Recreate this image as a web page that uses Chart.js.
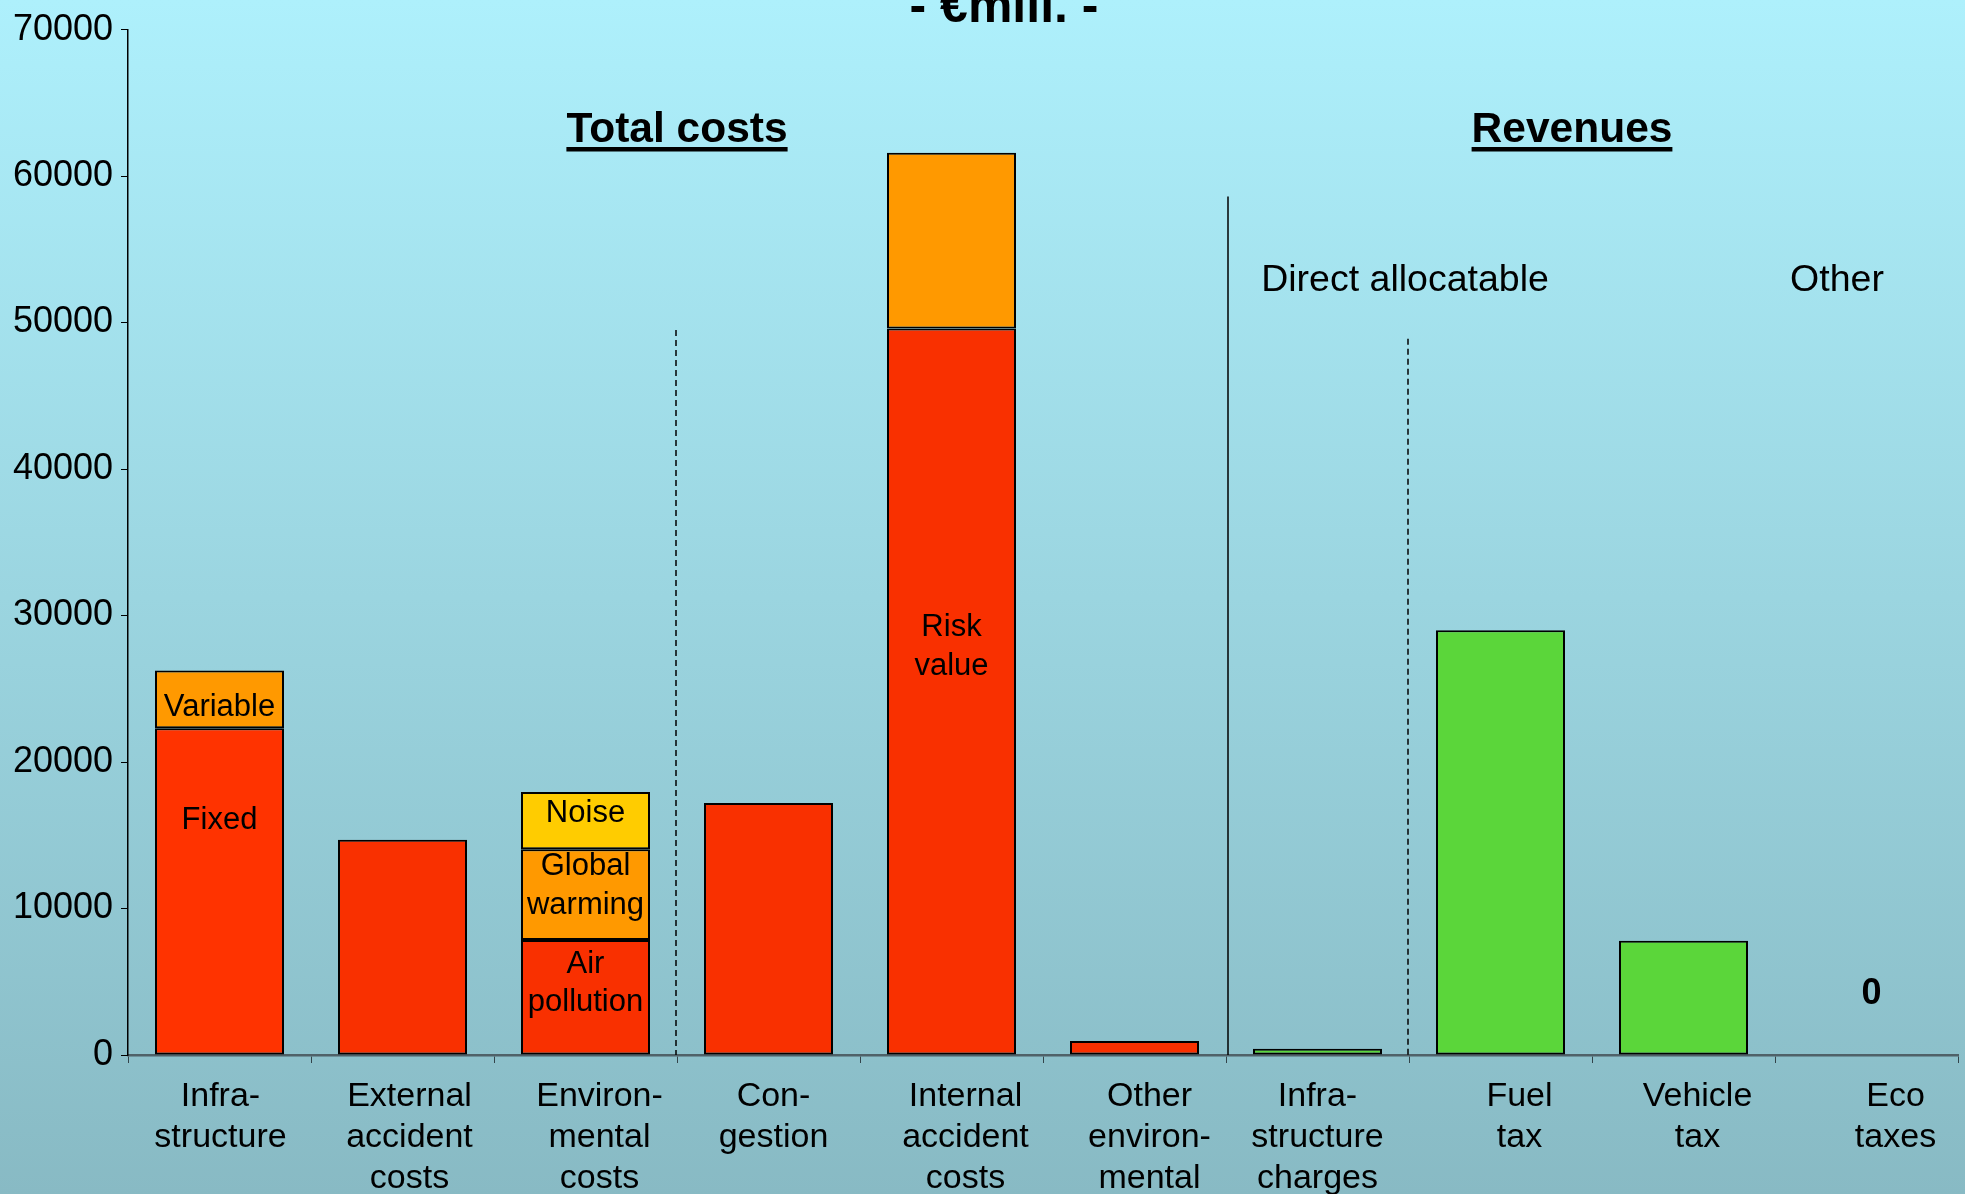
<!DOCTYPE html>
<html><head><meta charset="utf-8">
<script src="https://cdn.jsdelivr.net/npm/chart.js@4.4.1/dist/chart.umd.min.js"></script>
<style>html,body{margin:0;padding:0;background:#9fd6e2;}canvas{display:block;}</style>
</head><body>
<canvas id="c" width="1965" height="1194"></canvas>
<script>
// ---- data ----
const categories = [["Infra-","structure"],["External","accident","costs"],["Environ-","mental","costs"],["Con-","gestion"],["Internal","accident","costs"],["Other","environ-","mental"],["Infra-","structure","charges"],["Fuel","tax"],["Vehicle","tax"],["Eco","taxes"]];
const baseCosts   = [22300, 14700, 7850, 17200, 49600, 950, null, null, null, null];
const middleCosts = [3950, null, 6200, null, 12000, null, null, null, null, null];
const topCosts    = [null, null, 3900, null, null, null, null, null, null, null];
const revenues    = [null, null, null, null, null, null, 430, 29000, 7800, 0];
const yMin = 0, yMax = 70000, yStep = 10000;
const chartTitle = "- €mill. -";
const groupHeadings = ["Total costs", "Revenues"];
const subHeadings = ["Direct allocatable", "Other"];
// segment labels: category index, value level, text lines
const segmentLabels = [
  {cat:0, value:23700, lines:["Variable"]},
  {cat:0, value:16000, lines:["Fixed"]},
  {cat:2, value:16480, lines:["Noise"]},
  {cat:2, value:11540, lines:["Global","warming"]},
  {cat:2, value:4870,  lines:["Air","pollution"]},
  {cat:4, value:27850, lines:["Risk","value"]}
];
const zeroLabel = {cat:9, value:4150};
// divider lines: boundary index (between cat b-1 and b), top value, dashed
const dividers = [
  {boundary:3, top:49500, dashed:true},
  {boundary:6, top:58600, dashed:false},
  {boundary:7, top:48900, dashed:true}
];
// horizontal nudges (px) of category label text, as in the original slide
const labelNudge = [1, 7, 14, 5, 14, 15, 0, 19, 14, 29];

const FONT = '"Liberation Sans", Arial, Helvetica, sans-serif';
const RED_FIRST = '#FF3300', RED = '#F93000', ORANGE = '#FF9900', YELLOW = '#FFCC00', GREEN = '#5BD63A';

const bgPlugin = {
  id:'bg',
  beforeDraw(chart){
    const {ctx, width, height} = chart;
    const g = ctx.createLinearGradient(0,0,0,height);
    g.addColorStop(0,'#AEF0FC');
    g.addColorStop(1,'#88BAC4');
    ctx.save(); ctx.fillStyle = g; ctx.fillRect(0,0,width,height); ctx.restore();
  }
};

const annPlugin = {
  id:'ann',
  afterDatasetsDraw(chart){
    const {ctx} = chart;
    const x = chart.scales.x, y = chart.scales.y;
    const bx = b => (x.getPixelForValue(b-1) + x.getPixelForValue(b)) / 2;
    ctx.save();
    // dividers
    ctx.strokeStyle = '#000'; ctx.lineWidth = 1.5;
    dividers.forEach(d => {
      ctx.setLineDash(d.dashed ? [6,4] : []);
      const px = Math.round(bx(d.boundary)) + (d.dashed ? -1 : 2);
      ctx.beginPath(); ctx.moveTo(px, y.getPixelForValue(d.top)); ctx.lineTo(px, y.getPixelForValue(0)); ctx.stroke();
    });
    ctx.setLineDash([]);
    ctx.fillStyle = '#000';
    ctx.textAlign = 'center'; ctx.textBaseline = 'middle';
    // segment labels
    ctx.font = '31px ' + FONT;
    segmentLabels.forEach(l => {
      const cx = x.getPixelForValue(l.cat);
      const cy = y.getPixelForValue(l.value);
      const lh = 38.5;
      l.lines.forEach((t,i) => ctx.fillText(t, cx, cy + (i - (l.lines.length-1)/2)*lh));
    });
    // category labels
    ctx.font = '34px ' + FONT;
    ctx.textBaseline = 'middle';
    const y0 = y.getPixelForValue(0);
    categories.forEach((lines, i) => {
      const cx = x.getPixelForValue(i) + labelNudge[i];
      lines.forEach((t, j) => ctx.fillText(t, cx, y0 + 41.5 + j * 41));
    });
    // zero label
    ctx.font = 'bold 36px ' + FONT;
    ctx.fillText(String(revenues[zeroLabel.cat]), x.getPixelForValue(zeroLabel.cat)+5, y.getPixelForValue(zeroLabel.value));
    // title
    ctx.textBaseline = 'alphabetic';
    ctx.font = 'bold 50px ' + FONT;
    ctx.fillText(chartTitle, 1004, 22);
    // group headings
    ctx.font = 'bold 42.5px ' + FONT;
    [[groupHeadings[0], bx(3)], [groupHeadings[1], 1572]].forEach(([t, cx]) => {
      ctx.fillText(t, cx, 142);
      const w = ctx.measureText(t).width;
      ctx.fillRect(cx - w/2, 147, w, 4.5);
    });
    // sub headings
    ctx.font = '37.5px ' + FONT;
    ctx.fillText(subHeadings[0], bx(7) - 4, 291);
    ctx.fillText(subHeadings[1], 1837, 291);
    ctx.restore();
  }
};

const barCommon = {
  borderColor:'#000',
  borderWidth: c => (c.raw === 0 ? 0 : 2),
  borderSkipped:false,
  barPercentage:0.705,
  categoryPercentage:1.0,
  stack:'s'
};

new Chart(document.getElementById('c'), {
  type:'bar',
  data:{
    labels:categories,
    datasets:[
      Object.assign({label:'base', data:baseCosts, backgroundColor: baseCosts.map((v,i)=> i===0 ? RED_FIRST : RED)}, barCommon),
      Object.assign({label:'middle', data:middleCosts, backgroundColor:ORANGE}, barCommon),
      Object.assign({label:'top', data:topCosts, backgroundColor:YELLOW}, barCommon),
      Object.assign({label:'revenues', data:revenues, backgroundColor:GREEN}, barCommon)
    ]
  },
  options:{
    responsive:false,
    animation:false,
    devicePixelRatio:1,
    layout:{padding:{top:27, right:7, left:0, bottom:0}},
    plugins:{legend:{display:false}, tooltip:{enabled:false}, title:{display:false}},
    scales:{
      x:{
        stacked:true,
        grid:{display:true, drawOnChartArea:false, drawTicks:true, tickLength:8, color:'#33444a', offset:true},
        border:{display:true, color:'#4f6168', width:2.5},
        ticks:{display:false},
        afterFit(s){ s.height = 139; }
      },
      y:{
        stacked:true,
        min:yMin, max:yMax,
        grid:{display:true, drawOnChartArea:false, drawTicks:true, tickLength:7, color:'#000'},
        border:{display:true, color:'#000', width:1.5},
        ticks:{stepSize:yStep, color:'#000', font:{family:FONT, size:36}, padding:8, callback: v => String(v)},
        afterFit(s){ s.width = 128; }
      }
    }
  },
  plugins:[bgPlugin, annPlugin]
});
</script>
</body></html>
